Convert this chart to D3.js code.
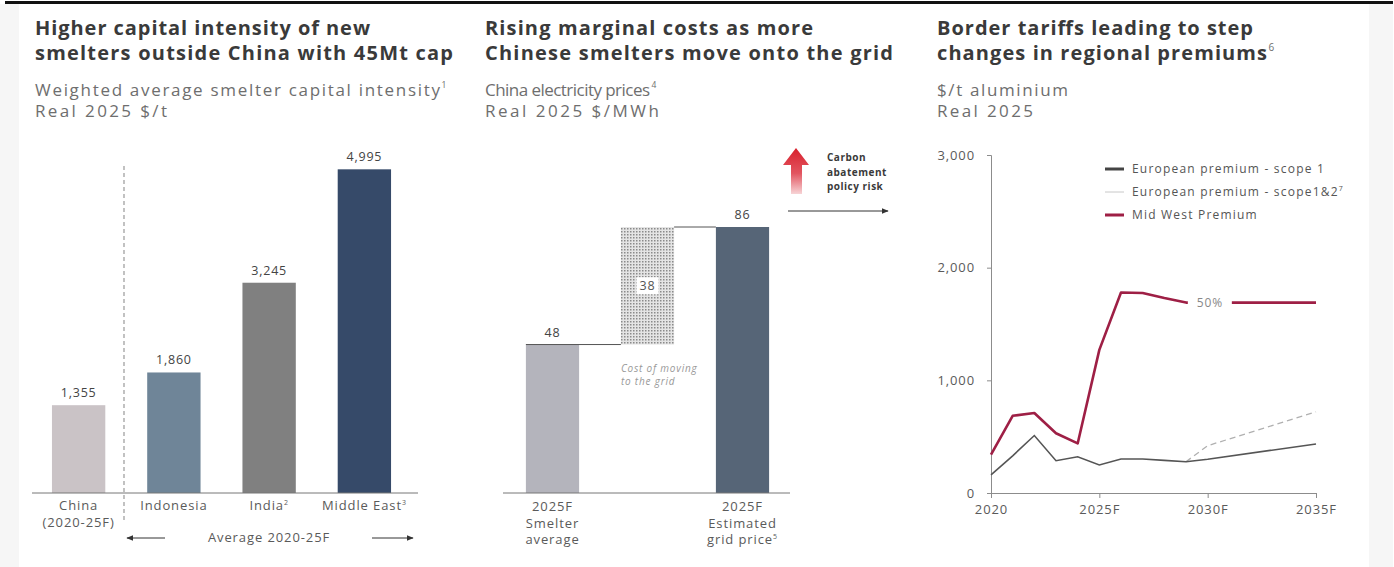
<!DOCTYPE html>
<html>
<head>
<meta charset="utf-8">
<script src="https://cdn.jsdelivr.net/npm/d3@7"></script>
<style>
  html, body { margin: 0; padding: 0; background: #fff; }
  svg { display: block; font-family: "Open Sans", "DejaVu Sans", sans-serif; }
</style>
</head>
<body>
<svg id="chart" width="1394" height="567"></svg>
<script>
// ---- Panel 1: smelter capital intensity ($/t) ----
const capCategories = ["China", "Indonesia", "India", "Middle East"];
const capCategorySup = ["", "", "2", "3"];
const capSecondLine = ["(2020-25F)", "", "", ""];
const capValues = [1355, 1860, 3245, 4995];

// ---- Panel 2: China electricity prices ($/MWh) ----
const gridSteps = ["smelter", "move", "grid"];
const gridStepLabels = [["2025F", "Smelter", "average"], [], ["2025F", "Estimated", "grid price"]];
const gridStepSup = ["", "", "5"];
const gridValues = [48, 38, 86];

// ---- Panel 3: regional premiums ($/t aluminium) ----
const premiumYears = [2020, 2021, 2022, 2023, 2024, 2025, 2026, 2027, 2028, 2029, 2035];
const midWestPremium = [340, 685, 710, 530, 440, 1270, 1780, 1775, 1730, 1690, 1690];
const euroScope1Years = [2020, 2021, 2022, 2023, 2024, 2025, 2026, 2027, 2028, 2029, 2030, 2035];
const euroScope1 = [160, 330, 510, 287, 322, 249, 302, 302, 290, 278, 300, 435];
const euroScope12Years = [2029, 2030, 2035];
const euroScope12 = [278, 420, 720];
const premiumYTicks = [0, 1000, 2000, 3000];
const premiumXTicks = [2020, 2025, 2030, 2035];
const premiumXTickLabels = ["2020", "2025F", "2030F", "2035F"];

const svg = d3.select("#chart");
const TITLE = "#3a3a3a", SUB = "#6e6e6e", LABEL = "#5a5a5a";
const LS = 0.9; // letter spacing used for small chart labels

// page frame: side strips and top rule
svg.append("rect").attr("x", 0).attr("y", 4).attr("width", 19).attr("height", 563).attr("fill", "#f6f6f6");
svg.append("rect").attr("x", 1369).attr("y", 4).attr("width", 24).attr("height", 563).attr("fill", "#f6f6f6");
svg.append("rect").attr("x", 5).attr("y", 1).attr("width", 1388).attr("height", 3).attr("fill", "#111");

// a text line stretched to a set width, with an optional superscript after it
function fitText(x, y, str, width, size, weight, color, sup) {
  svg.append("text").attr("x", x).attr("y", y).attr("font-size", size).attr("font-weight", weight)
    .attr("fill", color).attr("textLength", width).attr("lengthAdjust", "spacing").text(str);
  if (sup) svg.append("text").attr("x", x + width + 1.5).attr("y", y - size * 0.45)
    .attr("font-size", size * 0.5).attr("fill", SUB).text(sup);
}

function heading(x, titles, subs) {
  titles.forEach((t, i) => fitText(x, 35 + i * 25, t[0], t[1], 20, 700, TITLE, t[2]));
  subs.forEach((s, i) => fitText(x, 96 + i * 21, s[0], s[1], 17, 400, SUB, s[2]));
}

heading(35, [["Higher capital intensity of new", 335], ["smelters outside China with 45Mt cap", 418]],
  [["Weighted average smelter capital intensity", 405, "1"], ["Real 2025 $/t", 132]]);
heading(485, [["Rising marginal costs as more", 328], ["Chinese smelters move onto the grid", 408]],
  [["China electricity prices", 165, "4"], ["Real 2025 $/MWh", 174]]);
heading(937, [["Border tariffs leading to step", 316], ["changes in regional premiums", 330, "6"]],
  [["$/t aluminium", 131], ["Real 2025", 96]]);

function label(g, x, y, str, opts = {}) {
  const t = g.append("text").attr("x", x).attr("y", y).attr("text-anchor", opts.anchor || "middle")
    .attr("font-size", opts.size || 13).attr("letter-spacing", opts.ls ?? LS)
    .attr("fill", opts.color || LABEL).text(str);
  if (opts.sup) t.append("tspan").attr("font-size", 7).attr("dy", -5).text(opts.sup);
  return t;
}

const defs = svg.append("defs");
defs.append("marker").attr("id", "ah").attr("viewBox", "0 0 10 10").attr("refX", 9).attr("refY", 5)
  .attr("markerWidth", 7).attr("markerHeight", 7).attr("orient", "auto-start-reverse")
  .append("path").attr("d", "M0,1 L10,5 L0,9 Z").attr("fill", "#333");

// ===== Panel 1 =====
{
  const base = 493;
  const x = d3.scaleBand().domain(capCategories).range([31, 412]).paddingInner(0.44).paddingOuter(0.22);
  const y = d3.scaleLinear().domain([0, 5000]).range([base, 169]);
  const colors = ["#cac3c6", "#6f8598", "#808080", "#364a69"];
  const g = svg.append("g");

  g.selectAll("rect.bar").data(capValues).join("rect")
    .attr("x", (d, i) => x(capCategories[i])).attr("width", x.bandwidth())
    .attr("y", d => y(d)).attr("height", d => base - y(d))
    .attr("fill", (d, i) => colors[i]);

  capValues.forEach((d, i) => label(g, x(capCategories[i]) + x.bandwidth() / 2, y(d) - 8,
    d3.format(",")(d), { color: "#444", size: 12.5, ls: 0.8 }));

  g.append("line").attr("x1", 32).attr("x2", 418).attr("y1", base).attr("y2", base)
    .attr("stroke", "#777").attr("stroke-width", 1);

  // divider between China and the rest
  g.append("line").attr("x1", 124).attr("x2", 124).attr("y1", 166).attr("y2", 522)
    .attr("stroke", "#999").attr("stroke-width", 1.2).attr("stroke-dasharray", "4,3");

  capCategories.forEach((c, i) => {
    const cx = x(c) + x.bandwidth() / 2;
    label(g, cx, 510, c, { sup: capCategorySup[i] });
    if (capSecondLine[i]) label(g, cx, 527, capSecondLine[i]);
  });

  g.append("line").attr("x1", 165).attr("x2", 127).attr("y1", 538).attr("y2", 538)
    .attr("stroke", "#333").attr("stroke-width", 1).attr("marker-end", "url(#ah)");
  g.append("line").attr("x1", 372).attr("x2", 413).attr("y1", 538).attr("y2", 538)
    .attr("stroke", "#333").attr("stroke-width", 1).attr("marker-end", "url(#ah)");
  label(g, 269, 542, "Average 2020-25F");
}

// ===== Panel 2 =====
{
  const base = 493;
  const x = d3.scaleBand().domain(gridSteps).range([505, 790]).paddingInner(0.44).paddingOuter(0.22);
  const y = d3.scaleLinear().domain([0, 86]).range([base, 227]);

  const pat = defs.append("pattern").attr("id", "dots").attr("patternUnits", "userSpaceOnUse")
    .attr("width", 3).attr("height", 3);
  pat.append("rect").attr("width", 3).attr("height", 3).attr("fill", "#e4e4e4");
  pat.append("rect").attr("width", 1.5).attr("height", 1.5).attr("fill", "#8a8a8a");

  // waterfall segments: start, step, total
  const segs = [
    { lo: 0, hi: gridValues[0] },
    { lo: gridValues[0], hi: gridValues[0] + gridValues[1] },
    { lo: 0, hi: gridValues[2] }
  ];
  const fills = ["#b4b4bc", "url(#dots)", "#566577"];
  const g = svg.append("g");

  g.selectAll("rect.wf").data(segs).join("rect")
    .attr("x", (d, i) => x(gridSteps[i])).attr("width", x.bandwidth())
    .attr("y", d => y(d.hi)).attr("height", d => y(d.lo) - y(d.hi))
    .attr("fill", (d, i) => fills[i]);

  // connectors
  g.append("line").attr("x1", x(gridSteps[0])).attr("x2", x(gridSteps[1]))
    .attr("y1", y(gridValues[0])).attr("y2", y(gridValues[0])).attr("stroke", "#555");
  g.append("line").attr("x1", x(gridSteps[1]) + x.bandwidth()).attr("x2", x(gridSteps[2]))
    .attr("y1", y(segs[1].hi)).attr("y2", y(segs[1].hi)).attr("stroke", "#555");

  g.append("line").attr("x1", 503).attr("x2", 790).attr("y1", base).attr("y2", base)
    .attr("stroke", "#777").attr("stroke-width", 1);

  [0, 2].forEach(i => {
    const cx = x(gridSteps[i]) + x.bandwidth() / 2;
    label(g, cx, y(gridValues[i]) - 8, gridValues[i], { color: "#444", size: 12.5, ls: 0.8 });
    gridStepLabels[i].forEach((l, j) => label(g, cx, 511 + j * 16.5, l, { sup: j === 2 ? gridStepSup[i] : "" }));
  });

  const mcx = x(gridSteps[1]) + x.bandwidth() / 2;
  const mcy = (y(segs[1].lo) + y(segs[1].hi)) / 2;
  g.append("rect").attr("x", mcx - 11).attr("y", mcy - 8.5).attr("width", 22).attr("height", 17).attr("fill", "#fff");
  label(g, mcx, mcy + 4.5, gridValues[1], { color: "#555", size: 12.5, ls: 0.8 });

  ["Cost of moving", "to the grid"].forEach((l, j) => {
    label(g, x(gridSteps[1]), 372 + j * 12.5, l, { anchor: "start", size: 10, ls: 0.8, color: "#999" })
      .attr("font-style", "italic");
  });

  // carbon abatement risk arrow
  const grad = defs.append("linearGradient").attr("id", "redfade").attr("x1", 0).attr("y1", 0).attr("x2", 0).attr("y2", 1);
  grad.append("stop").attr("offset", "0%").attr("stop-color", "#d8202c");
  grad.append("stop").attr("offset", "55%").attr("stop-color", "#e25560");
  grad.append("stop").attr("offset", "100%").attr("stop-color", "#f7d4d6");
  g.append("path").attr("d", "M796,148 L809,165 L802,165 L802,194 L791,194 L791,165 L783,165 Z")
    .attr("fill", "url(#redfade)");
  ["Carbon", "abatement", "policy risk"].forEach((l, j) => {
    label(g, 827, 161 + j * 14.5, l, { anchor: "start", size: 10, ls: 0.5, color: "#3a3a3a" })
      .attr("font-weight", 700);
  });
  g.append("line").attr("x1", 788).attr("x2", 888).attr("y1", 211).attr("y2", 211)
    .attr("stroke", "#333").attr("stroke-width", 1).attr("marker-end", "url(#ah)");
}

// ===== Panel 3 =====
{
  const x = d3.scaleLinear().domain([2020, 2035]).range([991, 1316]);
  const y = d3.scaleLinear().domain([0, 3000]).range([493, 155]);
  const g = svg.append("g");

  const yAxis = g.append("g").attr("transform", "translate(991,0)")
    .call(d3.axisLeft(y).tickValues(premiumYTicks).tickFormat(d3.format(",")).tickSize(4).tickPadding(12));
  const xAxis = g.append("g").attr("transform", "translate(0,493)")
    .call(d3.axisBottom(x).tickValues(premiumXTicks).tickFormat((d, i) => premiumXTickLabels[i]).tickSize(5).tickPadding(7));
  [yAxis, xAxis].forEach(a => {
    a.select(".domain").attr("stroke", "#8c8c8c");
    a.selectAll(".tick line").attr("stroke", "#8c8c8c");
    a.selectAll(".tick text").attr("font-size", 13).attr("letter-spacing", LS).attr("fill", LABEL)
      .attr("font-family", "Open Sans, sans-serif");
  });

  const line = d3.line().x(d => x(d[0])).y(d => y(d[1]));

  g.append("path").datum(euroScope12Years.map((yr, i) => [yr, euroScope12[i]]))
    .attr("d", line).attr("fill", "none").attr("stroke", "#b0b0b0").attr("stroke-width", 1.3)
    .attr("stroke-dasharray", "6,4");
  g.append("path").datum(euroScope1Years.map((yr, i) => [yr, euroScope1[i]]))
    .attr("d", line).attr("fill", "none").attr("stroke", "#555").attr("stroke-width", 1.6);
  g.append("path").datum(premiumYears.map((yr, i) => [yr, midWestPremium[i]]))
    .attr("d", line).attr("fill", "none").attr("stroke", "#9e1f45").attr("stroke-width", 2.6)
    .attr("stroke-linejoin", "round");

  // tariff label sits on the flat forecast segment
  const lx = x(2030.1), ly = y(midWestPremium[midWestPremium.length - 1]);
  g.append("rect").attr("x", lx - 22).attr("y", ly - 8).attr("width", 44).attr("height", 16).attr("fill", "#fff");
  label(g, lx, ly + 4.5, "50%", { size: 12, color: "#888" });

  // legend
  const legend = [
    { label: "European premium - scope 1", sup: "", color: "#444", w: 3 },
    { label: "European premium - scope1&2", sup: "7", color: "#c8c8c8", w: 1 },
    { label: "Mid West Premium", sup: "", color: "#9e1f45", w: 3 }
  ];
  legend.forEach((d, i) => {
    const ly2 = 169 + i * 23;
    g.append("line").attr("x1", 1105).attr("x2", 1124).attr("y1", ly2).attr("y2", ly2)
      .attr("stroke", d.color).attr("stroke-width", d.w);
    label(g, 1132, ly2 + 4, d.label, { anchor: "start", size: 12, ls: 1.2, sup: d.sup, color: "#555" });
  });
}
</script>
</body>
</html>
